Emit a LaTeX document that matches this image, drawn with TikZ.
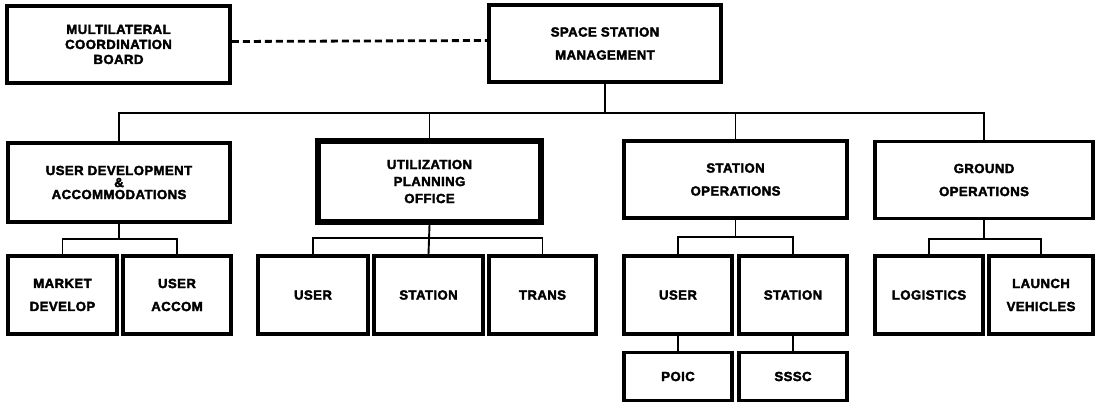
\documentclass[tikz,border=0pt]{standalone}
\usepackage{fontspec}
\setmainfont{Liberation Sans}[BoldFeatures={FakeBold=2.6, LetterSpace=3}]
\begin{document}
\begin{tikzpicture}[x=1pt,y=-1pt,
  orgbox/.style={draw=black, line width=3.6pt, inner sep=0pt, align=center,
    font=\bfseries\fontsize{13.2}{23}\selectfont},
  heavybox/.style={orgbox, line width=5.5pt},
  tight/.style={font=\bfseries\fontsize{13.2}{15}\selectfont},
  tighter/.style={font=\bfseries\fontsize{13.2}{12}\selectfont},
  mid/.style={font=\bfseries\fontsize{13.2}{17}\selectfont},
  link/.style={line width=1.9pt, draw=black},
  dashlink/.style={line width=2.8pt, draw=black, dash pattern=on 7pt off 4pt}]
\useasboundingbox (0,0) rectangle (1097,405);
% level 1
\node[orgbox, tight, minimum width=223pt, minimum height=77pt] (mcb) at (118.5,44.5) {MULTILATERAL\\COORDINATION\\BOARD};
\node[orgbox, minimum width=232pt, minimum height=77pt] (ssm) at (605,43.5) {SPACE STATION\\MANAGEMENT};
% level 2
\node[orgbox, tighter, minimum width=222pt, minimum height=79pt] (uda) at (119,182.5) {USER DEVELOPMENT\\\&\\ACCOMMODATIONS};
\node[heavybox, mid, minimum width=223pt, minimum height=81pt] (upo) at (429.5,181.5) {UTILIZATION\\PLANNING\\OFFICE};
\node[orgbox, minimum width=223pt, minimum height=77pt] (so) at (735.5,179.5) {STATION\\OPERATIONS};
\node[orgbox, minimum width=218pt, minimum height=77pt] (go) at (984,180) {GROUND\\OPERATIONS};
% level 3
\node[orgbox, minimum width=109pt, minimum height=78pt] (md) at (62.5,295) {MARKET\\DEVELOP};
\node[orgbox, minimum width=108pt, minimum height=78pt] (ua) at (177,295) {USER\\ACCOM};
\node[orgbox, minimum width=110pt, minimum height=78pt] (uu) at (313,295) {USER};
\node[orgbox, minimum width=109pt, minimum height=78pt] (us) at (428.5,295) {STATION};
\node[orgbox, minimum width=107pt, minimum height=78pt] (ut) at (542.5,295) {TRANS};
\node[orgbox, minimum width=108pt, minimum height=78pt] (su) at (678,295) {USER};
\node[orgbox, minimum width=108pt, minimum height=78pt] (ss) at (793,295) {STATION};
\node[orgbox, minimum width=108pt, minimum height=78pt] (gl) at (929,295) {LOGISTICS};
\node[orgbox, minimum width=104pt, minimum height=78pt] (gv) at (1041,295) {LAUNCH\\VEHICLES};
% level 4
\node[orgbox, minimum width=108pt, minimum height=48pt] (poic) at (678,376.5) {POIC};
\node[orgbox, minimum width=108pt, minimum height=48pt] (sssc) at (793,376.5) {SSSC};
% coordinates for buses
\coordinate (b1) at (0,113);
\coordinate (b2) at (0,239);
\coordinate (b3) at (0,238);
\coordinate (b4) at (0,237);
\coordinate (b5) at (0,239);
% connectors
\draw[dashlink] ([yshift=3pt]mcb.east) -- ([yshift=3pt]ssm.west);
\draw[link] (ssm.south) -- (ssm.south |- b1);
\draw[link] (uda.north) -- (uda.north |- b1) -- (go.north |- b1) -- (go.north);
\draw[link] (upo.north) -- (upo.north |- b1);
\draw[link] (so.north) -- (so.north |- b1);
% UDA children
\draw[link] (uda.south) -- (uda.south |- b2);
\draw[link] (md.north) -- (md.north |- b2) -- (ua.north |- b2) -- (ua.north);
% UPO children
\draw[link] (upo.south) -- (us.north);
\draw[link] (uu.north) -- (uu.north |- b3) -- (ut.north |- b3) -- (ut.north);
% SO children
\draw[link] (so.south) -- (so.south |- b4);
\draw[link] (su.north) -- (su.north |- b4) -- (ss.north |- b4) -- (ss.north);
\draw[link] (su.south) -- (poic.north);
\draw[link] (ss.south) -- (sssc.north);
% GO children
\draw[link] (go.south) -- (go.south |- b5);
\draw[link] (gl.north) -- (gl.north |- b5) -- (gv.north |- b5) -- (gv.north);
\end{tikzpicture}
\end{document}
